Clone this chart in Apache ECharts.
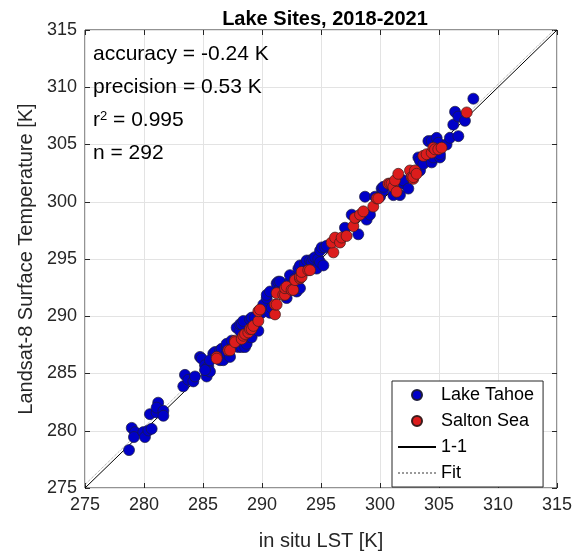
<!DOCTYPE html>
<html>
<head>
<meta charset="utf-8">
<script src="https://cdn.jsdelivr.net/npm/echarts@6/dist/echarts.min.js"></script>
<style>
  html, body { margin: 0; padding: 0; background: #fff; }
  #chart { width: 588px; height: 556px; }
</style>
</head>
<body>
<div id="chart"></div>
<script>
// axis range / ticks
const axisMin = 275
const axisMax = 315
const tickStep = 5

// Lake Tahoe matchups [in situ, Landsat-8]
const tahoePoints = [
  [278.73, 278.31], [278.96, 280.25], [279.24, 279.88], [279.15, 279.45], [279.94, 279.88],
  [280.08, 279.45], [280.37, 280.03], [280.65, 280.17], [280.5, 281.45], [281.07, 281.6],
  [281.2, 282.45], [281.07, 282.02], [281.64, 281.74], [281.64, 281.31],
  [283.33, 283.88], [283.47, 284.88], [283.75, 284.45], [284.18, 284.31], [284.32, 284.74],
  [284.75, 286.45], [284.89, 286.3], [285.17, 285.73], [285.45, 285.6], [285.31, 284.74],
  [285.59, 285.17], [285.87, 286.73], [285.17, 285.3], [285.59, 286.16], [286.02, 286.88],
  [286.44, 287.02], [286.44, 286.16], [286.72, 286.16], [286.58, 287.16], [287.0, 287.31],
  [287.0, 287.59], [287.0, 286.73], [287.29, 286.45], [287.43, 287.87], [287.85, 289.0],
  [288.0, 287.31], [288.14, 288.73], [288.14, 289.3], [288.28, 287.31], [288.28, 289.3],
  [288.42, 289.59], [288.56, 287.31], [288.7, 287.59], [288.98, 288.16], [288.98, 289.73],
  [289.12, 288.16], [289.12, 289.88], [289.41, 289.88], [289.69, 288.73], [289.97, 290.3],
  [290.11, 291.02], [290.4, 291.59], [290.4, 291.87], [290.68, 290.3], [290.68, 292.16],
  [290.82, 290.73], [291.24, 292.87], [291.38, 293.02], [291.53, 292.45], [291.53, 293.02],
  [292.09, 291.59], [292.37, 293.02], [292.37, 293.59], [292.8, 293.3], [292.94, 292.16],
  [293.08, 294.16], [293.22, 292.45], [293.22, 294.44], [293.64, 294.58], [293.79, 294.87],
  [294.07, 294.87], [294.2, 294.73], [294.35, 295.02], [294.49, 295.16], [294.63, 294.16],
  [294.77, 295.02], [294.92, 294.73], [294.92, 295.73], [295.06, 296.01], [295.2, 294.44],
  [295.34, 296.01], [295.48, 296.16], [297.03, 297.73], [297.6, 298.87], [298.16, 297.16],
  [298.73, 300.44], [298.87, 298.44], [299.15, 298.87], [299.58, 300.44], [300.0, 300.44],
  [300.14, 301.15], [300.28, 301.0], [300.28, 301.3], [301.13, 300.58], [301.69, 300.58],
  [301.97, 301.58], [301.97, 301.87], [302.4, 301.15], [303.25, 303.87], [303.39, 302.73],
  [303.39, 303.58], [303.67, 303.3], [304.1, 305.3], [304.38, 303.44], [304.38, 305.3],
  [304.52, 303.87], [304.8, 305.58], [304.94, 305.15], [305.08, 303.87], [305.08, 304.15],
  [305.64, 305.0], [305.93, 305.58], [306.21, 306.73], [306.36, 307.86], [306.64, 305.73],
  [306.64, 307.44], [307.2, 307.07], [307.91, 309.0]
]

// Salton Sea matchups [in situ, Landsat-8]
const saltonPoints = [
  [286.16, 286.45], [286.16, 286.3], [287.15, 287.02], [287.29, 287.02], [287.71, 287.87],
  [287.71, 287.74], [288.28, 288.02], [288.42, 288.3], [288.56, 288.45], [288.84, 288.59],
  [288.98, 288.88], [289.12, 288.88], [289.27, 289.16], [289.69, 289.59], [289.69, 290.44],
  [289.83, 290.59], [291.1, 290.16], [291.1, 291.02], [291.24, 291.02], [291.24, 292.02],
  [291.8, 291.87], [291.95, 291.87], [291.95, 292.45], [292.09, 292.59], [292.51, 292.3],
  [292.65, 292.3], [292.8, 293.16], [293.22, 293.3], [293.22, 293.44], [293.36, 293.44],
  [293.36, 293.87], [293.92, 294.02], [294.07, 294.02], [296.05, 295.58], [295.9, 296.44],
  [296.19, 296.87], [296.61, 296.44], [296.75, 296.87], [297.17, 297.01], [297.74, 297.87],
  [297.88, 298.59], [298.31, 298.87], [298.59, 299.16], [299.43, 299.58], [299.72, 300.29],
  [299.86, 300.29], [300.7, 301.58], [300.84, 301.58], [300.98, 301.58], [301.13, 301.3],
  [301.41, 300.87], [301.27, 301.87], [301.55, 302.44], [302.54, 302.73], [302.68, 302.15],
  [302.82, 302.0], [302.82, 302.15], [302.96, 302.73], [303.1, 302.44], [303.67, 304.01],
  [303.95, 304.15], [304.38, 304.29], [304.52, 304.72], [304.66, 304.58], [304.94, 304.58],
  [305.22, 304.72], [307.35, 307.8]
]

// reference lines
const oneToOne = [[275, 275], [315, 315]]
const fitLine = [[275, 275.3], [315, 315.25]]

const legendNames = ['Lake Tahoe', 'Salton Sea', '1-1', 'Fit']

const statLines = [
  'accuracy = -0.24 K',
  'precision = 0.53 K',
  'r{s|2} = 0.995',
  'n = 292'
]

const font = 'Liberation Sans, Arial, Helvetica, sans-serif'
const ink = '#262626'

const chart = echarts.init(document.getElementById('chart'))

const hiddenAxis = (pos) => ({
  type: 'value',
  position: pos,
  min: axisMin,
  max: axisMax,
  interval: tickStep,
  axisLine: { show: false },
  axisLabel: { show: false },
  splitLine: { show: false },
  axisTick: { inside: true, length: 5, lineStyle: { color: ink } }
})

const option = {
  animation: false,
  backgroundColor: '#fff',
  title: {
    text: 'Lake Sites, 2018-2021',
    left: 320,
    top: 4,
    textAlign: 'center',
    textStyle: { fontFamily: font, fontSize: 20, fontWeight: 'bold', color: '#000' }
  },
  grid: {
    left: 85,
    right: 31,
    top: 30,
    bottom: 59,
    show: true,
    borderColor: ink,
    borderWidth: 1
  },
  xAxis: [
    {
      type: 'value',
      min: axisMin,
      max: axisMax,
      interval: tickStep,
      name: 'in situ LST [K]',
      nameLocation: 'middle',
      nameGap: 43,
      nameTextStyle: { fontFamily: font, fontSize: 20, color: ink },
      axisLine: { show: false },
      axisTick: { inside: true, length: 5, lineStyle: { color: ink } },
      axisLabel: { fontFamily: font, fontSize: 18, color: ink, margin: 8 },
      splitLine: { lineStyle: { color: '#e3e3e3' } }
    },
    hiddenAxis('top')
  ],
  yAxis: [
    {
      type: 'value',
      min: axisMin,
      max: axisMax,
      interval: tickStep,
      name: 'Landsat-8 Surface Temperature [K]',
      nameLocation: 'middle',
      nameGap: 44,
      nameTextStyle: { fontFamily: font, fontSize: 20, color: ink },
      axisLine: { show: false },
      axisTick: { inside: true, length: 5, lineStyle: { color: ink } },
      axisLabel: { fontFamily: font, fontSize: 18, color: ink, margin: 8 },
      splitLine: { lineStyle: { color: '#e3e3e3' } }
    },
    hiddenAxis('right')
  ],
  legend: {
    orient: 'vertical',
    left: 392,
    top: 381,
    padding: [1, 9, 1, 5],
    itemWidth: 38,
    itemHeight: 10,
    itemGap: 0,
    borderColor: ink,
    borderWidth: 1,
    backgroundColor: '#fff',
    data: legendNames,
    textStyle: { fontFamily: font, fontSize: 18, color: '#000', lineHeight: 26 }
  },
  graphic: statLines.map((txt, i) => ({
    type: 'text',
    left: 93,
    top: 44 + i * 33,
    z: 10,
    style: {
      text: txt,
      font: '21px ' + font,
      fill: '#000',
      rich: {
        s: { fontSize: 13, fontFamily: font, verticalAlign: 'top', fill: '#000' }
      }
    }
  })),
  series: [
    {
      name: 'Lake Tahoe',
      type: 'scatter',
      data: tahoePoints,
      symbol: 'circle',
      symbolSize: 11,
      z: 3,
      itemStyle: { color: '#0000c8', borderColor: '#1c1c3a', borderWidth: 0.7, opacity: 1 }
    },
    {
      name: 'Salton Sea',
      type: 'scatter',
      data: saltonPoints,
      symbol: 'circle',
      symbolSize: 11,
      z: 4,
      itemStyle: { color: '#dc1c1c', borderColor: '#3a1c1c', borderWidth: 0.7, opacity: 1 }
    },
    {
      name: '1-1',
      type: 'line',
      data: oneToOne,
      symbol: 'none',
      z: 2,
      lineStyle: { color: '#000', width: 1 },
      itemStyle: { color: '#000', opacity: 0 }
    },
    {
      name: 'Fit',
      type: 'line',
      data: fitLine,
      symbol: 'none',
      z: 2,
      lineStyle: { color: '#9a9a9a', width: 1, type: 'dotted' },
      itemStyle: { color: '#9a9a9a', opacity: 0 }
    }
  ]
}

chart.setOption(option)
</script>
</body>
</html>
